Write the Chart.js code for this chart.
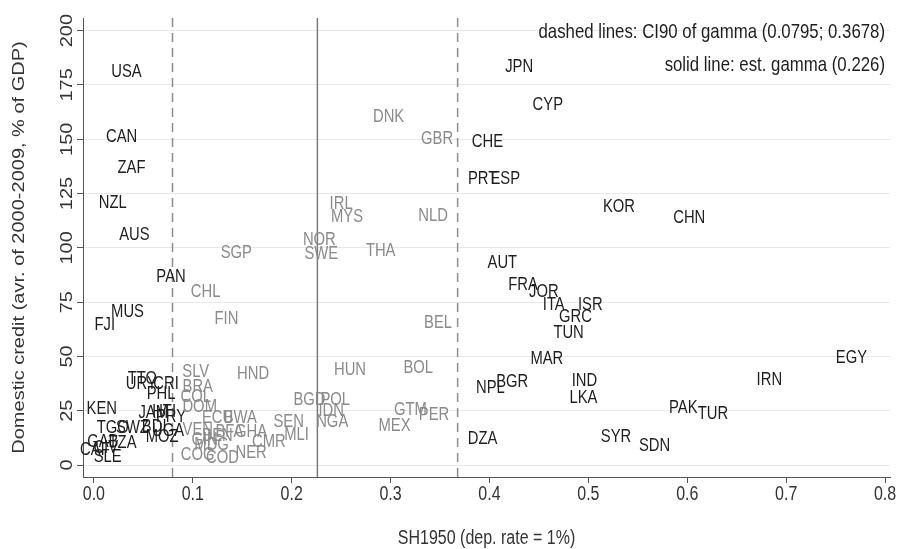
<!DOCTYPE html>
<html>
<head>
<meta charset="utf-8">
<script src="https://cdn.jsdelivr.net/npm/chart.js@4.4.1/dist/chart.umd.min.js"></script>
<style>
  html, body { margin: 0; padding: 0; background: #fff; }
</style>
</head>
<body>
<canvas id="chart" width="903" height="549"></canvas>
<script>
// country codes, SH1950 and domestic credit (avr. 2000-2009, % of GDP)
const countries = [
  'USA', 'CAN', 'ZAF', 'NZL', 'AUS', 'PAN', 'MUS', 'FJI', 'TTO', 'URY', 'CRI', 'PHL',
  'KEN', 'JAM', 'HTI', 'PRY', 'TGO', 'SWZ', 'BDI', 'UGA', 'MOZ', 'GAB', 'TZA', 'CAF',
  'CIV', 'SLE',
  'JPN', 'CYP', 'CHE', 'PRT', 'ESP', 'KOR', 'CHN', 'AUT', 'FRA', 'JOR', 'ITA', 'ISR',
  'GRC', 'TUN', 'MAR', 'EGY', 'NPL', 'BGR', 'IND', 'LKA', 'IRN', 'PAK', 'TUR', 'DZA',
  'SYR', 'SDN',
  'DNK', 'GBR', 'IRL', 'MYS', 'NLD', 'NOR', 'SWE', 'THA', 'SGP', 'CHL', 'FIN', 'BEL',
  'SLV', 'HND', 'HUN', 'BOL', 'BRA', 'COL', 'DOM', 'BGD', 'POL', 'IDN', 'NGA', 'ECU',
  'BWA', 'SEN', 'MLI', 'GTM', 'PER', 'MEX', 'VEN', 'GHA', 'CMR', 'NER', 'COG', 'COD',
  'GIN', 'BEN', 'BFA', 'MDG'
];
const sh1950 = [
  0.033, 0.028, 0.038, 0.019, 0.041, 0.078, 0.034, 0.011, 0.049, 0.048, 0.073, 0.068,
  0.008, 0.060, 0.071, 0.078, 0.019, 0.039, 0.061, 0.075, 0.069, 0.009, 0.029, 0.001,
  0.012, 0.014,
  0.430, 0.459, 0.398, 0.393, 0.416, 0.531, 0.602, 0.413, 0.434, 0.455, 0.465, 0.502,
  0.487, 0.480, 0.458, 0.766, 0.401, 0.423, 0.496, 0.495, 0.683, 0.596, 0.626, 0.393,
  0.528, 0.567,
  0.298, 0.347, 0.250, 0.256, 0.343, 0.228, 0.230, 0.290, 0.144, 0.113, 0.134, 0.348,
  0.103, 0.161, 0.259, 0.328, 0.105, 0.103, 0.107, 0.218, 0.244, 0.240, 0.241, 0.125,
  0.148, 0.197, 0.205, 0.320, 0.344, 0.304, 0.105, 0.159, 0.177, 0.159, 0.105, 0.130,
  0.112, 0.125, 0.137, 0.119
];
const credit = [
  181.0, 151.0, 136.7, 120.6, 105.9, 86.6, 70.4, 64.5, 39.6, 37.3, 37.3, 32.7,
  25.8, 23.9, 24.4, 22.1, 17.0, 17.0, 17.5, 15.5, 12.9, 10.6, 10.1, 6.9,
  8.0, 3.7,
  183.2, 165.7, 148.7, 131.7, 131.7, 118.8, 113.7, 93.0, 82.9, 79.6, 73.7, 73.7,
  68.1, 60.8, 48.8, 49.3, 35.4, 38.2, 38.7, 30.8, 39.1, 26.2, 23.5, 12.0,
  12.9, 8.7,
  160.2, 150.1, 120.2, 114.2, 114.6, 103.6, 97.1, 98.5, 97.6, 79.6, 67.2, 65.4,
  42.8, 41.9, 43.7, 44.7, 35.9, 31.3, 26.7, 29.9, 29.9, 24.9, 19.8, 21.6,
  21.6, 19.8, 13.8, 25.3, 23.0, 18.0, 16.1, 15.2, 10.6, 5.5, 4.6, 3.2,
  11.5, 13.4, 15.2, 9.2
];

// estimated gamma and its 90% confidence interval
const gammaEst = 0.226;
const ciLow = 0.0795;
const ciHigh = 0.3678;

const xTicks = [0, 0.1, 0.2, 0.3, 0.4, 0.5, 0.6, 0.7, 0.8];
const yTicks = [0, 25, 50, 75, 100, 125, 150, 175, 200];

const FONT = "'Liberation Sans', Arial, sans-serif";
const SQUEEZE = 0.8; // the original graph is horizontally compressed

const points = countries.map((c, i) => ({ x: sh1950[i], y: credit[i], label: c }));

// text drawn narrower than normal, like in the source image
function squeezedText(ctx, text, x, y, rotate) {
  ctx.save();
  ctx.translate(x, y);
  ctx.scale(SQUEEZE, 1);
  if (rotate) ctx.rotate(-Math.PI / 2);
  ctx.fillText(text, 0, 0);
  ctx.restore();
}

// draws the vertical gamma lines behind the labels
const gammaLines = {
  id: 'gammaLines',
  beforeDatasetsDraw(chart) {
    const { ctx, chartArea, scales } = chart;
    ctx.save();
    ctx.lineWidth = 1.5;
    [ciLow, ciHigh].forEach(v => {
      const px = scales.x.getPixelForValue(v);
      ctx.strokeStyle = '#8c8c8c';
      ctx.setLineDash([9, 6]);
      ctx.beginPath();
      ctx.moveTo(px, chartArea.top);
      ctx.lineTo(px, chartArea.bottom);
      ctx.stroke();
    });
    const ps = scales.x.getPixelForValue(gammaEst);
    ctx.setLineDash([]);
    ctx.strokeStyle = '#7a7a7a';
    ctx.beginPath();
    ctx.moveTo(ps, chartArea.top);
    ctx.lineTo(ps, chartArea.bottom);
    ctx.stroke();
    ctx.restore();
  }
};

// country codes as marker labels, tick labels, titles, notes
const textLayer = {
  id: 'textLayer',
  afterDatasetsDraw(chart) {
    const { ctx, chartArea, scales } = chart;
    const meta = chart.getDatasetMeta(0);
    ctx.save();
    ctx.textAlign = 'center';
    ctx.textBaseline = 'middle';

    ctx.font = '18.5px ' + FONT;
    meta.data.forEach((el, i) => {
      const inside = sh1950[i] > ciLow && sh1950[i] < ciHigh;
      ctx.fillStyle = inside ? '#8a8a8a' : '#1e1e1e';
      squeezedText(ctx, countries[i], el.x, el.y);
    });

    ctx.font = '20px ' + FONT;
    ctx.fillStyle = '#333';
    scales.y.ticks.forEach(t => {
      squeezedText(ctx, String(t.value), 68, scales.y.getPixelForValue(t.value), true);
    });
    scales.x.ticks.forEach(t => {
      squeezedText(ctx, t.value.toFixed(1), scales.x.getPixelForValue(t.value), 494);
    });

    squeezedText(ctx, 'SH1950 (dep. rate = 1%)', (chartArea.left + chartArea.right) / 2, 538);
    squeezedText(ctx, 'Domestic credit (avr. of 2000-2009, % of GDP)', 20,
      (chartArea.top + chartArea.bottom) / 2, true);

    ctx.font = '21px ' + FONT;
    ctx.fillStyle = '#1e1e1e';
    ctx.textAlign = 'right';
    squeezedText(ctx, 'dashed lines: CI90 of gamma (0.0795; 0.3678)', 885, 32);
    squeezedText(ctx, 'solid line: est. gamma (0.226)', 885, 65);
    ctx.restore();
  }
};

new Chart(document.getElementById('chart').getContext('2d'), {
  type: 'scatter',
  data: {
    datasets: [{
      data: points,
      pointRadius: 0,
      pointHoverRadius: 0
    }]
  },
  options: {
    responsive: false,
    animation: false,
    layout: { padding: { top: 18, right: 13, bottom: 0, left: 0 } },
    plugins: {
      legend: { display: false },
      tooltip: { enabled: false }
    },
    scales: {
      x: {
        type: 'linear',
        min: -0.011,
        max: 0.805,
        afterFit(scale) { scale.height = 72; },
        afterBuildTicks(scale) { scale.ticks = xTicks.map(v => ({ value: v })); },
        ticks: { display: false },
        grid: { drawOnChartArea: false, drawTicks: true, tickLength: 6, tickColor: '#555' },
        border: { color: '#555', width: 1 }
      },
      y: {
        type: 'linear',
        min: -5.5,
        max: 205.8,
        afterFit(scale) { scale.width = 83; },
        afterBuildTicks(scale) { scale.ticks = yTicks.map(v => ({ value: v })); },
        ticks: { display: false },
        grid: { color: '#e8e8e8', drawTicks: true, tickLength: 6, tickColor: '#555' },
        border: { color: '#555', width: 1 }
      }
    }
  },
  plugins: [gammaLines, textLayer]
});
</script>
</body>
</html>
